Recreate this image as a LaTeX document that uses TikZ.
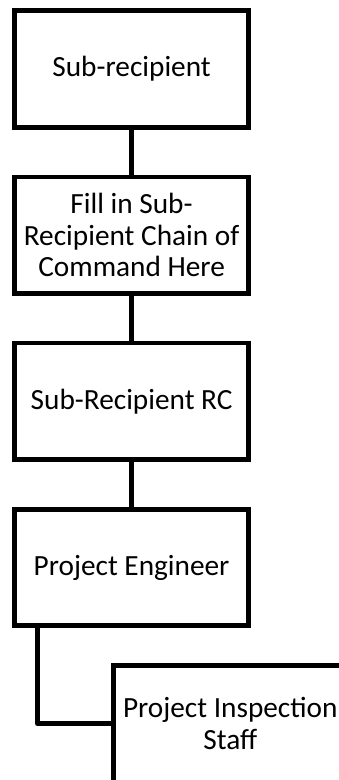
\documentclass[tikz,border=0pt]{standalone}
\usepackage{fontspec}
\setmainfont{Carlito}
\begin{document}
\begin{tikzpicture}[x=1pt,y=1pt,
  orgbox/.style={draw=black, line width=4.7pt, rectangle, minimum width=234.2pt,
    minimum height=116.5pt, inner sep=0pt, outer sep=0pt, align=center,
    font=\fontsize{29.3}{31.7}\selectfont, text=black},
  link/.style={draw=black, line width=4.7pt, line join=round}]
\useasboundingbox (0,0) rectangle (339,-780);
\node[orgbox] (b1) at (131.6,-68.9) {Sub-recipient};
\node[orgbox] (b2) at (131.6,-235.2) {Fill in Sub-\\Recipient Chain of\\Command Here};
\node[orgbox] (b3) at (131.6,-401.2) {Sub-Recipient RC};
\node[orgbox] (b4) at (131.6,-567.5) {Project Engineer};
\node[orgbox] (b5) at (230.3,-723.7) {Project Inspection\\Staff};
\draw[link] (b1.south) -- (b2.north);
\draw[link] (b2.south) -- (b3.north);
\draw[link] (b3.south) -- (b4.north);
\draw[link] ([xshift=23pt]b4.south west) |- (b5.west);
\end{tikzpicture}
\end{document}
